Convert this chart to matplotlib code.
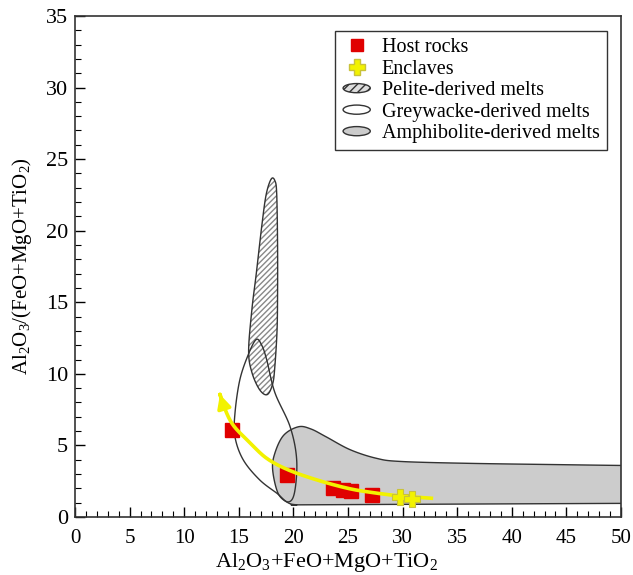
import numpy as np
import matplotlib
matplotlib.use("Agg")
import matplotlib.pyplot as plt
import matplotlib.patches as mpatches
from matplotlib.legend_handler import HandlerPatch

# --- data ---
host_x = [14.4, 19.45, 23.6, 24.5, 25.3, 27.2]
host_y = [6.1, 2.9, 2.0, 1.9, 1.85, 1.55]

encl_x = [29.8, 30.9]
encl_y = [1.4, 1.25]

# field outlines (control points, closed)
pelite = [(17.96, 23.6), (17.5, 22.5), (17.1, 20.3), (16.6, 17.0), (16.2, 14.5),
          (15.9, 11.6), (16.2, 10.1), (16.9, 8.9), (17.6, 8.55), (18.1, 9.3),
          (18.3, 10.5), (18.5, 13.0), (18.55, 15.6), (18.55, 19.0), (18.47, 22.6),
          (18.3, 23.5)]
greywacke = [(16.6, 12.4), (15.9, 11.4), (15.1, 9.6), (14.65, 7.25), (14.65, 5.6),
             (15.4, 4.0), (16.9, 2.6), (18.5, 1.65), (19.5, 1.05), (20.1, 1.7),
             (20.3, 4.0), (19.7, 6.3), (18.3, 8.7), (17.55, 11.0), (17.1, 12.0)]
amphibolite = [(18.1, 3.3), (18.3, 4.45), (19.1, 5.7), (20.45, 6.3), (21.6, 6.15),
               (23.0, 5.6), (25.2, 4.7), (27.6, 4.1), (29.8, 3.88), (35.9, 3.75),
               (45.0, 3.65), (50.0, 3.6), (51.0, 3.6), (52.0, 3.6), (52.0, 2.5),
               (52.0, 0.95), (51.0, 0.95), (50.0, 0.95), (35.0, 0.9), (21.0, 0.85),
               (20.3, 0.85), (19.5, 1.0), (18.6, 1.65)]

# trend arrow
trend_x = [32.8, 30.0, 27.3, 25.0, 22.1, 19.5, 17.55, 16.0, 14.5, 13.7, 13.2]
trend_y = [1.3, 1.45, 1.7, 2.0, 2.6, 3.3, 4.1, 5.2, 6.4, 7.6, 8.75]

plt.rcParams.update({"font.family": "Liberation Serif", "mathtext.fontset": "custom",
                     "mathtext.rm": "Liberation Serif", "mathtext.it": "Liberation Serif",
                     "font.size": 15})

YEL = "#f2f200"
GREY = "#cccccc"
EDGE = "#333333"


def smooth(pts, closed=True, n=20):
    # Catmull-Rom spline through the points
    p = np.array(pts, float)
    if closed:
        p = np.vstack([p[-1], p, p[0], p[1]])
    else:
        p = np.vstack([p[0], p, p[-1]])
    out = []
    t = np.linspace(0, 1, n, endpoint=False)[:, None]
    for i in range(1, len(p) - 2):
        p0, p1, p2, p3 = p[i - 1], p[i], p[i + 1], p[i + 2]
        seg = 0.5 * ((2 * p1) + (-p0 + p2) * t + (2 * p0 - 5 * p1 + 4 * p2 - p3) * t ** 2
                     + (-p0 + 3 * p1 - 3 * p2 + p3) * t ** 3)
        out.append(seg)
    out.append(p[-2][None, :])
    return np.vstack(out)


fig = plt.figure(figsize=(6.33, 5.75), dpi=100)
ax = fig.add_axes([0.1185, 0.1009, 0.8625, 0.8713])

amp = smooth(amphibolite)
ax.add_patch(mpatches.Polygon(amp, closed=True, fc=GREY, ec=EDGE, lw=1.0, zorder=1))
pl = smooth(pelite)
ax.add_patch(mpatches.Polygon(pl, closed=True, fill=False, ec="#888888", lw=0,
                              hatch="//////", zorder=2))
gw = smooth(greywacke)
ax.add_patch(mpatches.Polygon(gw, closed=True, fill=False, ec=EDGE, lw=1.0, zorder=3))
ax.add_patch(mpatches.Polygon(pl, closed=True, fill=False, ec=EDGE, lw=1.0, zorder=4))

ax.plot(host_x, host_y, "s", color="#e00000", ms=10, mec="#e00000", zorder=5, ls="none")
tr = smooth(list(zip(trend_x, trend_y)), closed=False)
ax.plot(tr[:-6, 0], tr[:-6, 1], color=YEL, lw=2.6, zorder=6, solid_capstyle="butt")
ax.annotate("", xy=(trend_x[-1], trend_y[-1]), xytext=(tr[-9, 0], tr[-9, 1]),
            arrowprops=dict(arrowstyle="-|>", color=YEL, lw=2.6, mutation_scale=20), zorder=6)
ax.plot(encl_x, encl_y, "P", color=YEL, mec="#c9c23a", mew=0.8, ms=11, zorder=7, ls="none")

ax.set_xlim(0, 50)
ax.set_ylim(0, 35)
ax.set_xticks(range(0, 51, 5))
ax.set_yticks(range(0, 36, 5))
ax.set_xticks(range(0, 51), minor=True)
ax.set_yticks(range(0, 36), minor=True)
ax.tick_params(axis="x", direction="in", length=7, width=1, labelsize=15, pad=9)
ax.tick_params(axis="y", direction="in", length=7, width=1, labelsize=16, pad=5)
ax.tick_params(which="minor", direction="in", length=4, width=0.8)
for s in ax.spines.values():
    s.set_linewidth(1.2)
    s.set_color(EDGE)

ax.set_xlabel(r"Al$_2$O$_3$+FeO+MgO+TiO$_2$", fontsize=16)
ax.xaxis.set_label_coords(0.46, -0.068)
ax.set_ylabel(r"Al$_2$O$_3$/(FeO+MgO+TiO$_2$)", fontsize=15)
ax.yaxis.set_label_coords(-0.075, 0.5)


class HandlerEllipse(HandlerPatch):
    def create_artists(self, legend, orig_handle, xdescent, ydescent, width, height, fontsize, trans):
        c = (width / 2 - xdescent, height / 2 - ydescent)
        e = mpatches.Ellipse(xy=c, width=width * 0.9, height=height * 0.65)
        self.update_prop(e, orig_handle, legend)
        e.set_transform(trans)
        return [e]


h_host = plt.Line2D([], [], marker="s", color="#e00000", ls="none", ms=9)
h_encl = plt.Line2D([], [], marker="P", color=YEL, mec="#c9c23a", ls="none", ms=11)
h_pel = mpatches.Ellipse((0, 0), 1, 1, fc="#dddddd", ec=EDGE, hatch="////", lw=1)
h_gw = mpatches.Ellipse((0, 0), 1, 1, fc="white", ec=EDGE, lw=1)
h_amp = mpatches.Ellipse((0, 0), 1, 1, fc=GREY, ec=EDGE, lw=1)
leg = ax.legend([h_host, h_encl, h_pel, h_gw, h_amp],
                ["Host rocks", "Enclaves", "Pelite-derived melts",
                 "Greywacke-derived melts", "Amphibolite-derived melts"],
                handler_map={mpatches.Ellipse: HandlerEllipse()},
                loc="upper right", bbox_to_anchor=(0.974, 0.970), borderaxespad=0,
                fontsize=14.5, fancybox=False, framealpha=1, edgecolor=EDGE,
                handlelength=1.5, handletextpad=0.5, labelspacing=0.12, borderpad=0.35)
leg.get_frame().set_linewidth(1.0)

fig.savefig("out.png", dpi=100)
